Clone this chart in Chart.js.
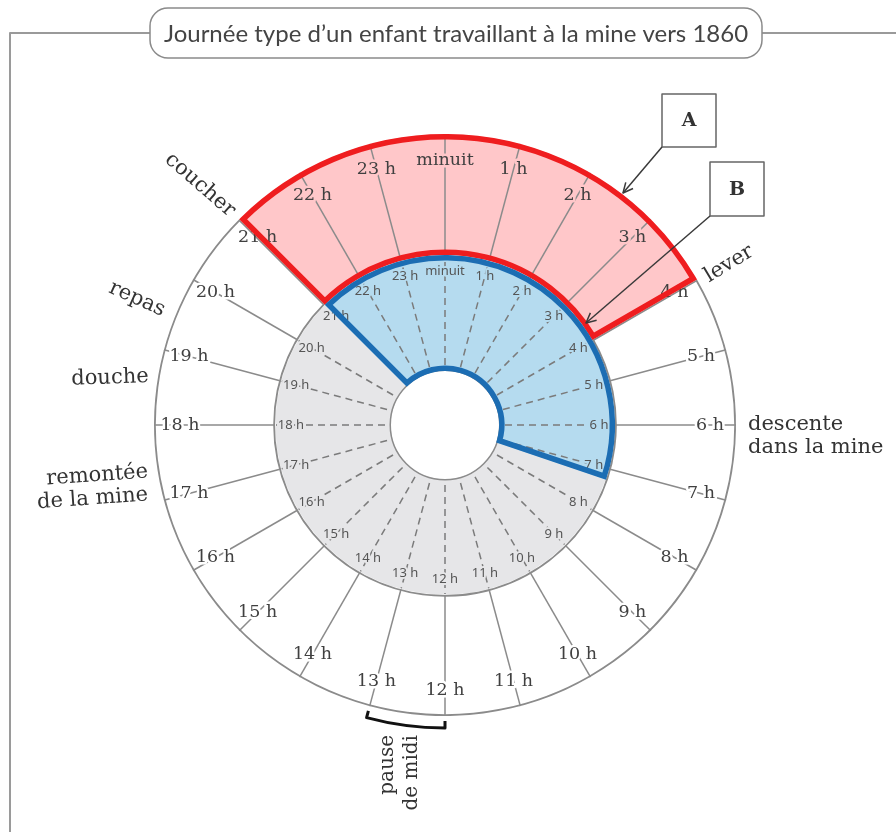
<!DOCTYPE html>
<html>
<head>
<meta charset="utf-8">
<script src="https://cdn.jsdelivr.net/npm/chart.js@4.4.0/dist/chart.umd.min.js"></script>
<style>
  html, body { margin: 0; padding: 0; background: #fff; }
</style>
</head>
<body>
<canvas id="journee" width="896" height="832"></canvas>
<script>
// heures du cadran (minuit en haut, sens horaire)
const hourLabels = ['minuit', '1 h', '2 h', '3 h', '4 h', '5 h', '6 h', '7 h', '8 h', '9 h', '10 h', '11 h',
  '12 h', '13 h', '14 h', '15 h', '16 h', '17 h', '18 h', '19 h', '20 h', '21 h', '22 h', '23 h'];
// secteur A (anneau extérieur) : du coucher au lever
const spanA = [21, 4];
// secteur B (anneau intérieur)
const spanB = [21, 7.25];
// pause de midi
const spanPause = [12, 13];

const spanLen = s => (s[1] - s[0] + 24) % 24;
const inSpan = (h, s) => ((h - s[0] + 24) % 24) < spanLen(s);
const hourAngle = h => -Math.PI / 2 + h * Math.PI / 12;

const RED = '#ef1d1f', BLUE = '#1c6db3';
const PINK = '#ffc7c9', LIGHTBLUE = '#b5dbef', GREY = '#e6e6e8';
const LINE = '#8b8b8b';

const dialPlugin = {
  id: 'dial',
  afterDatasetsDraw(chart) {
    const ctx = chart.ctx;
    const outer = chart.getDatasetMeta(0).data;
    const inner = chart.getDatasetMeta(1).data;
    const o = outer[0].getProps(['x', 'y', 'innerRadius', 'outerRadius'], true);
    const i = inner[0].getProps(['innerRadius', 'outerRadius'], true);
    const cx = o.x, cy = o.y;
    const pt = (h, r) => [cx + r * Math.cos(hourAngle(h)), cy + r * Math.sin(hourAngle(h))];

    ctx.save();
    // bord du trou central
    ctx.strokeStyle = LINE;
    ctx.lineWidth = 1.5;
    ctx.beginPath();
    ctx.arc(cx, cy, i.innerRadius + 0.75, 0, Math.PI * 2);
    ctx.stroke();

    // rayons de l'anneau extérieur
    hourLabels.forEach((_, h) => {
      if (h === spanA[0] || h === spanA[1]) return;
      const a = pt(h, o.innerRadius), b = pt(h, o.outerRadius);
      ctx.beginPath(); ctx.moveTo(a[0], a[1]); ctx.lineTo(b[0], b[1]); ctx.stroke();
    });
    // rayons en tirets du disque intérieur
    ctx.strokeStyle = '#7b7b7b';
    ctx.setLineDash([7, 5]);
    hourLabels.forEach((_, h) => {
      if (h === spanB[0] || h === spanB[1]) return;
      const a = pt(h, i.innerRadius + 6), b = pt(h, i.outerRadius - 1);
      ctx.beginPath(); ctx.moveTo(a[0], a[1]); ctx.lineTo(b[0], b[1]); ctx.stroke();
    });
    ctx.setLineDash([]);

    // étiquettes
    ctx.textAlign = 'center';
    ctx.textBaseline = 'middle';
    ctx.lineJoin = 'round';
    const rOut = o.innerRadius + 95, rIn = i.outerRadius - 16;
    hourLabels.forEach((txt, h) => {
      let p = pt(h, rOut);
      ctx.font = '17.5px "DejaVu Serif"';
      if (h !== spanA[0] && h !== spanA[1]) {
        ctx.strokeStyle = inSpan(h, spanA) ? PINK : '#fff';
        ctx.lineWidth = 5;
        ctx.strokeText(txt, p[0], p[1]);
      }
      ctx.fillStyle = '#404040';
      ctx.fillText(txt, p[0], p[1]);

      p = pt(h, rIn);
      ctx.font = '13px "Noto Sans"';
      ctx.strokeStyle = inSpan(h, spanB) ? LIGHTBLUE : GREY;
      ctx.lineWidth = 4;
      if (h !== spanB[0]) ctx.strokeText(txt, p[0], p[1]);
      ctx.fillStyle = '#555';
      ctx.fillText(txt, p[0], p[1]);
    });

    // contours des secteurs A et B
    const outline = (arc, color, w) => {
      const g = arc.getProps(['x', 'y', 'startAngle', 'endAngle', 'innerRadius', 'outerRadius'], true);
      const ro = g.outerRadius - w / 2, ri = g.innerRadius + w / 2;
      ctx.beginPath();
      ctx.arc(g.x, g.y, ro, g.startAngle + (w / 2) / ro, g.endAngle - (w / 2) / ro);
      ctx.arc(g.x, g.y, ri, g.endAngle - (w / 2) / ri, g.startAngle + (w / 2) / ri, true);
      ctx.closePath();
      ctx.lineWidth = w;
      ctx.strokeStyle = color;
      ctx.lineJoin = 'miter';
      ctx.stroke();
    };
    outline(outer[1], RED, 5.5);
    outline(inner[1], BLUE, 5.5);

    // accolade de la pause de midi
    ctx.strokeStyle = '#111';
    ctx.lineWidth = 3;
    ctx.lineJoin = 'round';
    ctx.beginPath();
    let p = pt(spanPause[1], o.outerRadius + 5);
    ctx.moveTo(p[0], p[1]);
    ctx.arc(cx, cy, o.outerRadius + 12, hourAngle(spanPause[1]), hourAngle(spanPause[0]), true);
    p = pt(spanPause[0], o.outerRadius + 5);
    ctx.lineTo(p[0], p[1]);
    ctx.stroke();

    // textes autour du cadran
    ctx.fillStyle = '#333';
    ctx.font = '21px "DejaVu Serif"';
    const note = (txt, x, y, rot, align) => {
      ctx.save();
      ctx.translate(x, y);
      ctx.rotate(rot * Math.PI / 180);
      ctx.textAlign = align || 'center';
      ctx.fillText(txt, 0, 0);
      ctx.restore();
    };
    note('coucher', 200, 185, 41);
    note('lever', 729, 264, -31);
    note('repas', 137, 299, 24);
    note('douche', 110, 378, -2);
    note('remontée', 148, 472, -4, 'right');
    note('de la mine', 148, 495, -4, 'right');
    note('descente', 748, 425, 0, 'left');
    note('dans la mine', 748, 448, 0, 'left');
    ctx.font = '20px "DejaVu Serif"';
    note('pause', 388, 735, -90, 'right');
    note('de midi', 412, 735, -90, 'right');

    // cadre et titre
    ctx.strokeStyle = '#9a9a9a';
    ctx.lineWidth = 2;
    ctx.beginPath();
    ctx.moveTo(10, 832); ctx.lineTo(10, 33); ctx.lineTo(150, 33);
    ctx.moveTo(762, 33); ctx.lineTo(896, 33);
    ctx.stroke();
    ctx.strokeStyle = '#8a8a8a';
    ctx.lineWidth = 1.5;
    ctx.beginPath();
    ctx.roundRect(150, 8, 612, 50, 18);
    ctx.fillStyle = '#fff';
    ctx.fill();
    ctx.stroke();
    ctx.fillStyle = '#444';
    ctx.font = '24px Lato';
    ctx.textAlign = 'center';
    ctx.fillText('Journée type d\u2019un enfant travaillant à la mine vers 1860', 456, 34);

    // repères A et B
    const tag = (txt, x, y, w, h, tx, ty) => {
      ctx.strokeStyle = '#666';
      ctx.lineWidth = 1.5;
      ctx.fillStyle = '#fff';
      ctx.fillRect(x, y, w, h);
      ctx.strokeRect(x, y, w, h);
      ctx.fillStyle = '#333';
      ctx.font = 'bold 19px "DejaVu Serif"';
      ctx.textAlign = 'center';
      ctx.fillText(txt, x + w / 2, y + h / 2 + 1);
      const sx = x, sy = y + h;
      ctx.strokeStyle = '#3a3a3a';
      ctx.beginPath(); ctx.moveTo(sx, sy); ctx.lineTo(tx, ty); ctx.stroke();
      const ang = Math.atan2(ty - sy, tx - sx);
      ctx.beginPath();
      ctx.moveTo(tx - 11 * Math.cos(ang - 0.45), ty - 11 * Math.sin(ang - 0.45));
      ctx.lineTo(tx, ty);
      ctx.lineTo(tx - 11 * Math.cos(ang + 0.45), ty - 11 * Math.sin(ang + 0.45));
      ctx.stroke();
    };
    tag('A', 662, 94, 54, 53, 623, 193);
    tag('B', 710, 162, 54, 54, 586, 323);
    ctx.restore();
  }
};

new Chart(document.getElementById('journee'), {
  type: 'doughnut',
  data: {
    labels: ['jour', 'nuit'],
    datasets: [
      {
        data: [24 - spanLen(spanA), spanLen(spanA)],
        rotation: spanA[1] * 15,
        weight: 121,
        backgroundColor: ['#ffffff', PINK],
        borderColor: [LINE, 'rgba(0,0,0,0)'],
        borderWidth: [1.5, 0],
        borderAlign: 'inner'
      },
      {
        data: [24 - spanLen(spanB), spanLen(spanB)],
        rotation: spanB[1] * 15,
        weight: 116,
        backgroundColor: [GREY, LIGHTBLUE],
        borderWidth: 0,
        borderAlign: 'inner'
      }
    ]
  },
  options: {
    responsive: false,
    animation: false,
    events: [],
    cutout: 54,
    layout: { padding: { left: 154, top: 134, right: 160, bottom: 116 } },
    plugins: {
      legend: { display: false },
      tooltip: { enabled: false }
    }
  },
  plugins: [dialPlugin]
});
</script>
</body>
</html>
